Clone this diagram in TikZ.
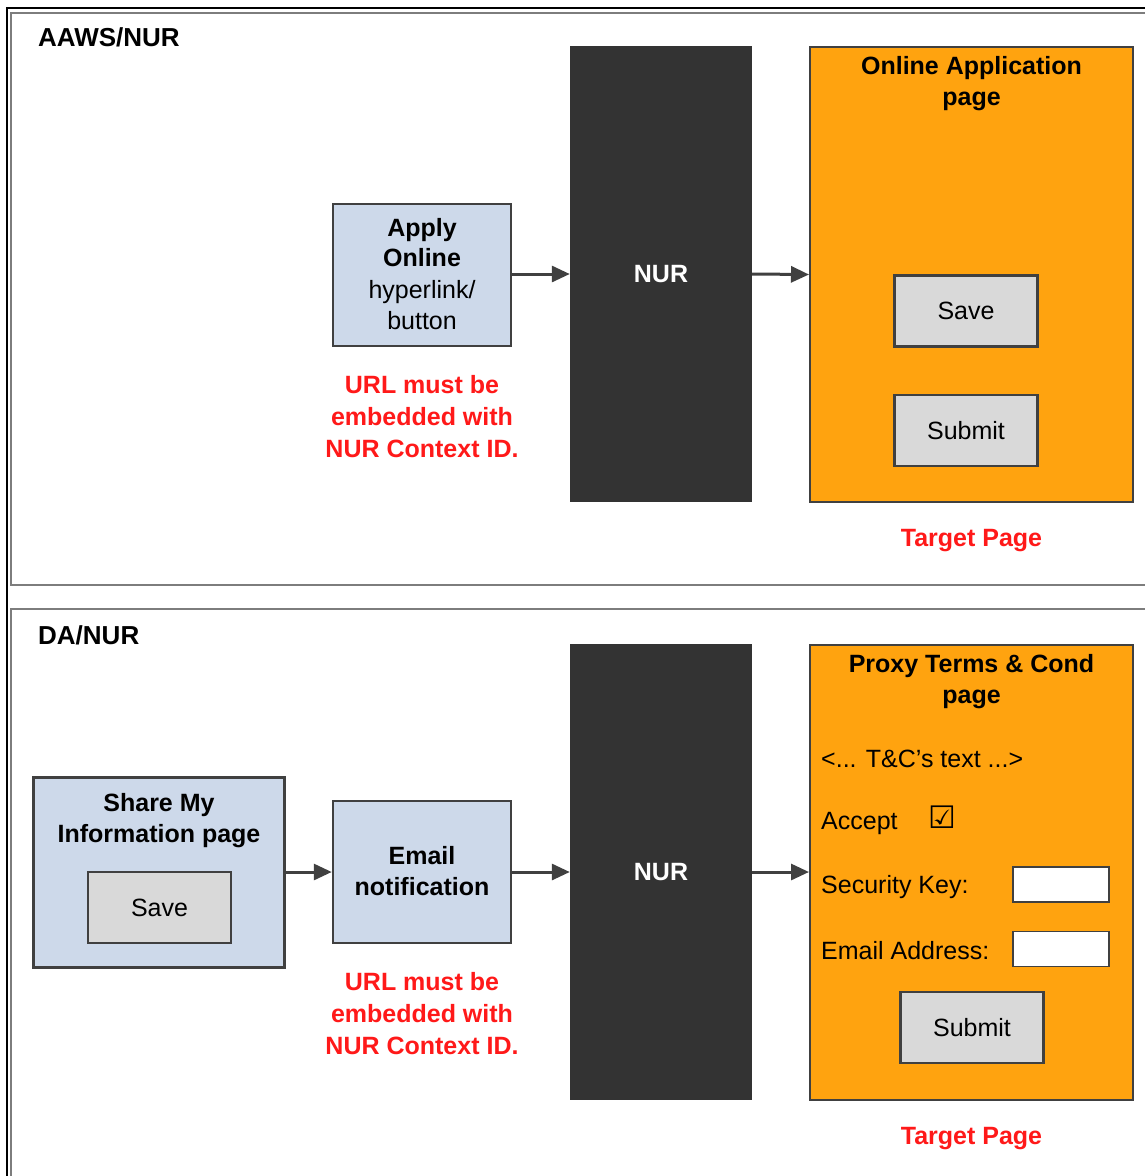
\documentclass[tikz,border=0pt]{standalone}
\usepackage{fontspec}
\setmainfont{Liberation Sans}
\newfontfamily\symfont{DejaVu Sans}
\usetikzlibrary{arrows.meta,positioning}
\definecolor{framegray}{RGB}{125,125,125}
\definecolor{edgegray}{RGB}{64,64,64}
\definecolor{paleblue}{RGB}{205,217,234}
\definecolor{darkbar}{RGB}{51,51,51}
\definecolor{pageorange}{RGB}{255,163,15}
\definecolor{btngray}{RGB}{217,217,217}
\definecolor{notered}{RGB}{255,25,25}

\begin{document}
\begin{tikzpicture}[
    x=1pt, y=-1pt,
    panel/.style={draw=framegray, line width=2pt},
    srcbox/.style={rectangle, draw=edgegray, line width=2.5pt, fill=paleblue, inner sep=0pt},
    nurbar/.style={rectangle, fill=darkbar, inner sep=0pt, text=white,
        font=\fontsize{25}{30}\selectfont\bfseries},
    pagebox/.style={rectangle, draw=edgegray, line width=2pt, fill=pageorange, inner sep=0pt},
    btn/.style={rectangle, draw=edgegray, line width=2.5pt, fill=btngray, inner sep=0pt,
        minimum width=143pt, minimum height=71pt, font=\fontsize{25}{30}\selectfont},
    inbox/.style={rectangle, draw=edgegray, line width=1.5pt, fill=white, inner sep=0pt,
        minimum width=96pt, minimum height=35pt},
    title/.style={align=center, font=\fontsize{25}{31}\selectfont\bfseries},
    plain/.style={align=center, font=\fontsize{25}{31}\selectfont},
    formtxt/.style={anchor=west, inner sep=0pt, font=\fontsize{25}{30}\selectfont},
    note/.style={align=center, text=notered, font=\fontsize{25}{32}\selectfont\bfseries},
    arr/.style={-{Triangle[length=18pt,width=16pt]}, draw=edgegray, line width=3pt}
]
\useasboundingbox (0,0) rectangle (1145,1176);
\fill[white] (0,0) rectangle (1145,1176);

% frames
\draw[black, line width=1.2pt] (7,1190) -- (7,8) -- (1160,8);
\draw[panel] (10.5,12.5) rectangle (1160,585);
\draw[panel] (10.5,608.5) rectangle (1160,1190);
\node[anchor=west, inner sep=0pt, font=\fontsize{26}{30}\selectfont\bfseries] (headA) at (38,37) {AAWS/NUR};
\node[anchor=west, inner sep=0pt, font=\fontsize{26}{30}\selectfont\bfseries] (headB) at (38,635) {DA/NUR};

% AAWS/NUR row
\node[srcbox, minimum width=178pt, minimum height=142pt] (apply) at (422,275) {};
\node[plain] (applytxt) at (422,274) {\textbf{Apply}\\[-1pt]\textbf{Online}\\[1pt]hyperlink/\\button};
\node[note, below=25pt of apply] (urlA) {URL must be\\embedded with\\NUR Context ID.};
\node[nurbar, minimum width=182pt, minimum height=456pt] (nurA) at (661,274) {NUR};
\node[pagebox, minimum width=323pt, minimum height=455pt] (pageA) at (971.5,274.5) {};
\node[title, below=7pt of pageA.north] (pageAtxt) {Online Application\\page};
\node[btn] (saveA) at (966,311) {Save};
\node[btn] (submitA) at (966,430.5) {Submit};
\node[note, below=23pt of pageA] (targetA) {Target Page};

\draw[arr] (apply.east |- nurA) -- (nurA.west);
\draw[arr] (nurA.east) -- (pageA.west);

% DA/NUR row
\node[srcbox, minimum width=251pt, minimum height=190pt] (share) at (159,872.5) {};
\node[title] (sharetxt) at (159,821) {Share My\\Information page};
\node[btn] (saveB) at (159.5,907.5) {Save};
\node[srcbox, minimum width=178pt, minimum height=142pt] (email) at (422,872) {};
\node[title] (emailtxt) at (422,871) {Email\\notification};
\node[note, below=25pt of email] (urlB) {URL must be\\embedded with\\NUR Context ID.};
\node[nurbar, minimum width=182pt, minimum height=456pt] (nurB) at (661,872) {NUR};
\node[pagebox, minimum width=323pt, minimum height=455pt] (pageB) at (971.5,872.5) {};
\node[title, below=7pt of pageB.north] (pageBtxt) {Proxy Terms \& Cond\\page};
\node[formtxt] (tctxt) at (821,759) {<... T\&C’s text ...>};
\node[formtxt] (accept) at (821,823) {Accept};
\node[inner sep=0pt, font=\symfont\fontsize{31}{34}\selectfont] (tick) at (942,817) {☑};
\node[formtxt] (seckey) at (821,887) {Security Key:};
\node[inbox] (seckeybox) at (1061,884.5) {};
\node[formtxt] (mailaddr) at (821,951) {Email Address:};
\node[inbox] (mailbox) at (1061,949) {};
\node[btn] (submitB) at (972,1027.5) {Submit};
\node[note, below=23pt of pageB] (targetB) {Target Page};

\draw[arr] (share.east |- email) -- (email.west);
\draw[arr] (email.east) -- (email.east -| nurB.west);
\draw[arr] (nurB.east) -- (nurB.east -| pageB.west);
\end{tikzpicture}
\end{document}
